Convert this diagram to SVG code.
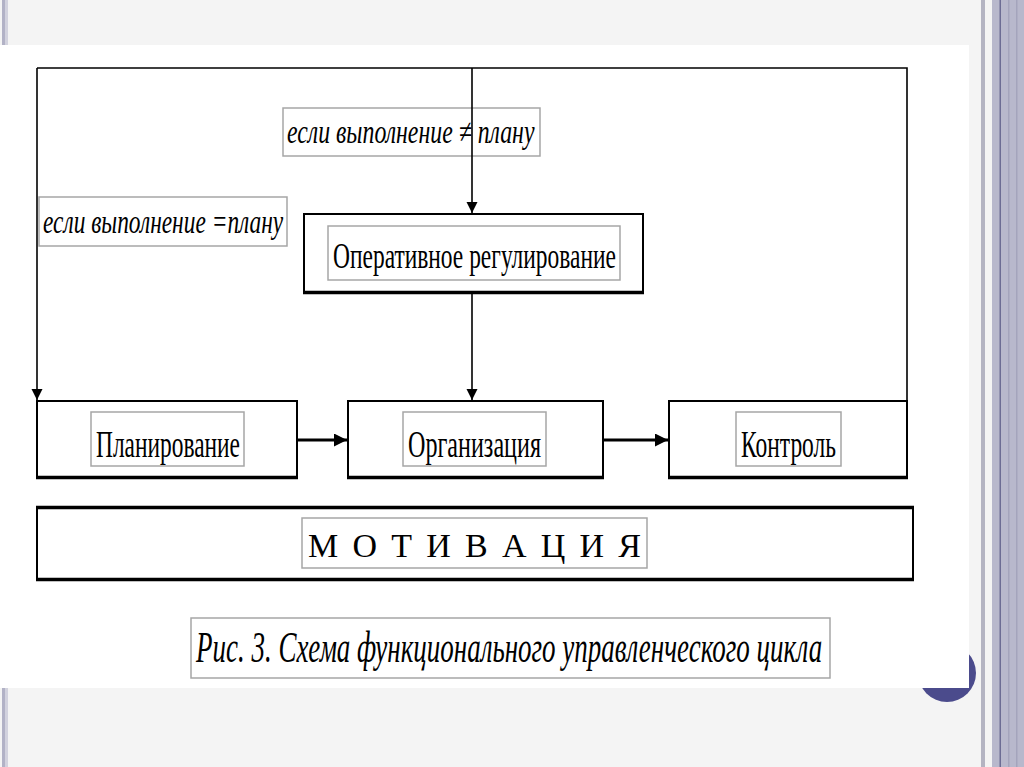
<svg xmlns="http://www.w3.org/2000/svg" width="1024" height="767" viewBox="0 0 1024 767">
<style>
.box{fill:#fff;stroke:#000;stroke-width:2}
.bot{stroke:#000;stroke-width:3.5}
.lab{fill:#fff;stroke:#a6a6a6;stroke-width:1.5}
.lab2{fill:none;stroke:#a6a6a6;stroke-width:1.5}
.t{font-family:"Liberation Serif","Times New Roman",serif;fill:#000}
.i{font-family:"Liberation Serif","Times New Roman",serif;font-style:italic;fill:#000}
.ln{stroke:#000;stroke-width:1.6;fill:none}
.thick{stroke:#000;stroke-width:3;fill:none}
</style>
<defs>
<marker id="ah" viewBox="0 0 10 10" refX="10" refY="5" markerWidth="11" markerHeight="12" markerUnits="userSpaceOnUse" orient="auto">
<path d="M0,0 L10,5 L0,10 z" fill="#000"/>
</marker>
<marker id="ah2" viewBox="0 0 10 10" refX="10" refY="5" markerWidth="13" markerHeight="13" markerUnits="userSpaceOnUse" orient="auto">
<path d="M0,0 L10,5 L0,10 z" fill="#000"/>
</marker>
</defs>
<g id="background">
<rect x="0" y="0" width="1024" height="767" fill="#f4f4f4"/>
<rect x="2" y="0" width="3" height="767" fill="#b2b2c6"/>
<rect x="5" y="0" width="3" height="767" fill="#d2d2de"/>
<rect x="981" y="0" width="4" height="767" fill="#b4b4c2"/>
<rect x="992" y="0" width="32" height="767" fill="#b8b8cc"/>
<rect x="999.5" y="0" width="1.5" height="767" fill="#6c6c94"/>
<rect x="1008" y="0" width="1.5" height="767" fill="#a4a4bc"/>
<rect x="1016" y="0" width="1.5" height="767" fill="#a4a4bc"/>
<circle cx="947" cy="673" r="29" fill="#4b4b8c"/>
<rect x="0" y="45" width="969" height="643" fill="#fff"/>
</g>
<g id="label-ne">
<rect class="lab2" x="283" y="108" width="257" height="48"/>
<text class="i" transform="translate(287,143) scale(0.66,1)" x="0" y="0" font-size="34" textLength="375" lengthAdjust="spacingAndGlyphs">если выполнение  ≠ плану</text>
</g>
<g id="label-eq">
<rect class="lab" x="39" y="197" width="248" height="49"/>
<text class="i" transform="translate(43,233) scale(0.66,1)" x="0" y="0" font-size="34" textLength="364" lengthAdjust="spacingAndGlyphs">если выполнение =плану</text>
</g>
<g id="connectors">
<polyline class="ln" points="37,68 907,68 907,401"/>
<polyline class="ln" points="37,68 37,400" marker-end="url(#ah)"/>
<line class="ln" x1="472" y1="68" x2="472" y2="213" marker-end="url(#ah)"/>
<line class="ln" x1="472" y1="293" x2="472" y2="400" marker-end="url(#ah)"/>
<line class="thick" x1="297" y1="440" x2="347" y2="440" marker-end="url(#ah2)"/>
<line class="thick" x1="603" y1="440" x2="668" y2="440" marker-end="url(#ah2)"/>
</g>
<g id="node-operative">
<rect class="box" x="304" y="214" width="339" height="79"/>
<line class="bot" x1="303" y1="292.5" x2="644" y2="292.5"/>
<rect class="lab" x="328" y="226" width="292" height="54"/>
<text class="t" x="333" y="268" font-size="35" textLength="283" lengthAdjust="spacingAndGlyphs">Оперативное регулирование</text>
</g>
<g id="node-plan">
<rect class="box" x="37" y="401" width="260" height="77"/>
<line class="bot" x1="36" y1="477.5" x2="298" y2="477.5"/>
<rect class="lab" x="91" y="412" width="153" height="54"/>
<text class="t" x="96" y="457" font-size="37" textLength="144" lengthAdjust="spacingAndGlyphs">Планирование</text>
</g>
<g id="node-org">
<rect class="box" x="348" y="401" width="255" height="77"/>
<line class="bot" x1="347" y1="477.5" x2="604" y2="477.5"/>
<rect class="lab" x="403" y="412" width="143" height="54"/>
<text class="t" x="408" y="457" font-size="37" textLength="133" lengthAdjust="spacingAndGlyphs">Организация</text>
</g>
<g id="node-control">
<rect class="box" x="669" y="401" width="238" height="77"/>
<line class="bot" x1="668" y1="477.5" x2="908" y2="477.5"/>
<rect class="lab" x="736" y="412" width="105" height="54"/>
<text class="t" x="741" y="457" font-size="37" textLength="95" lengthAdjust="spacingAndGlyphs">Контроль</text>
</g>
<g id="node-motivation">
<rect class="box" x="37" y="507" width="876" height="73"/>
<line class="bot" x1="36" y1="507.5" x2="914" y2="507.5"/>
<line class="bot" x1="36" y1="579.5" x2="914" y2="579.5"/>
<rect class="lab" x="302" y="518" width="345" height="50"/>
<text class="t" x="308" y="557" font-size="34" textLength="333" lengthAdjust="spacing">М О Т И В А Ц И Я</text>
</g>
<g id="caption">
<rect class="lab" x="191" y="618" width="639" height="60"/>
<text class="i" transform="translate(196,662) scale(0.62,1)" x="0" y="0" font-size="45" textLength="1010" lengthAdjust="spacingAndGlyphs">Рис. 3. Схема функционального управленческого цикла</text>
</g>
</svg>
